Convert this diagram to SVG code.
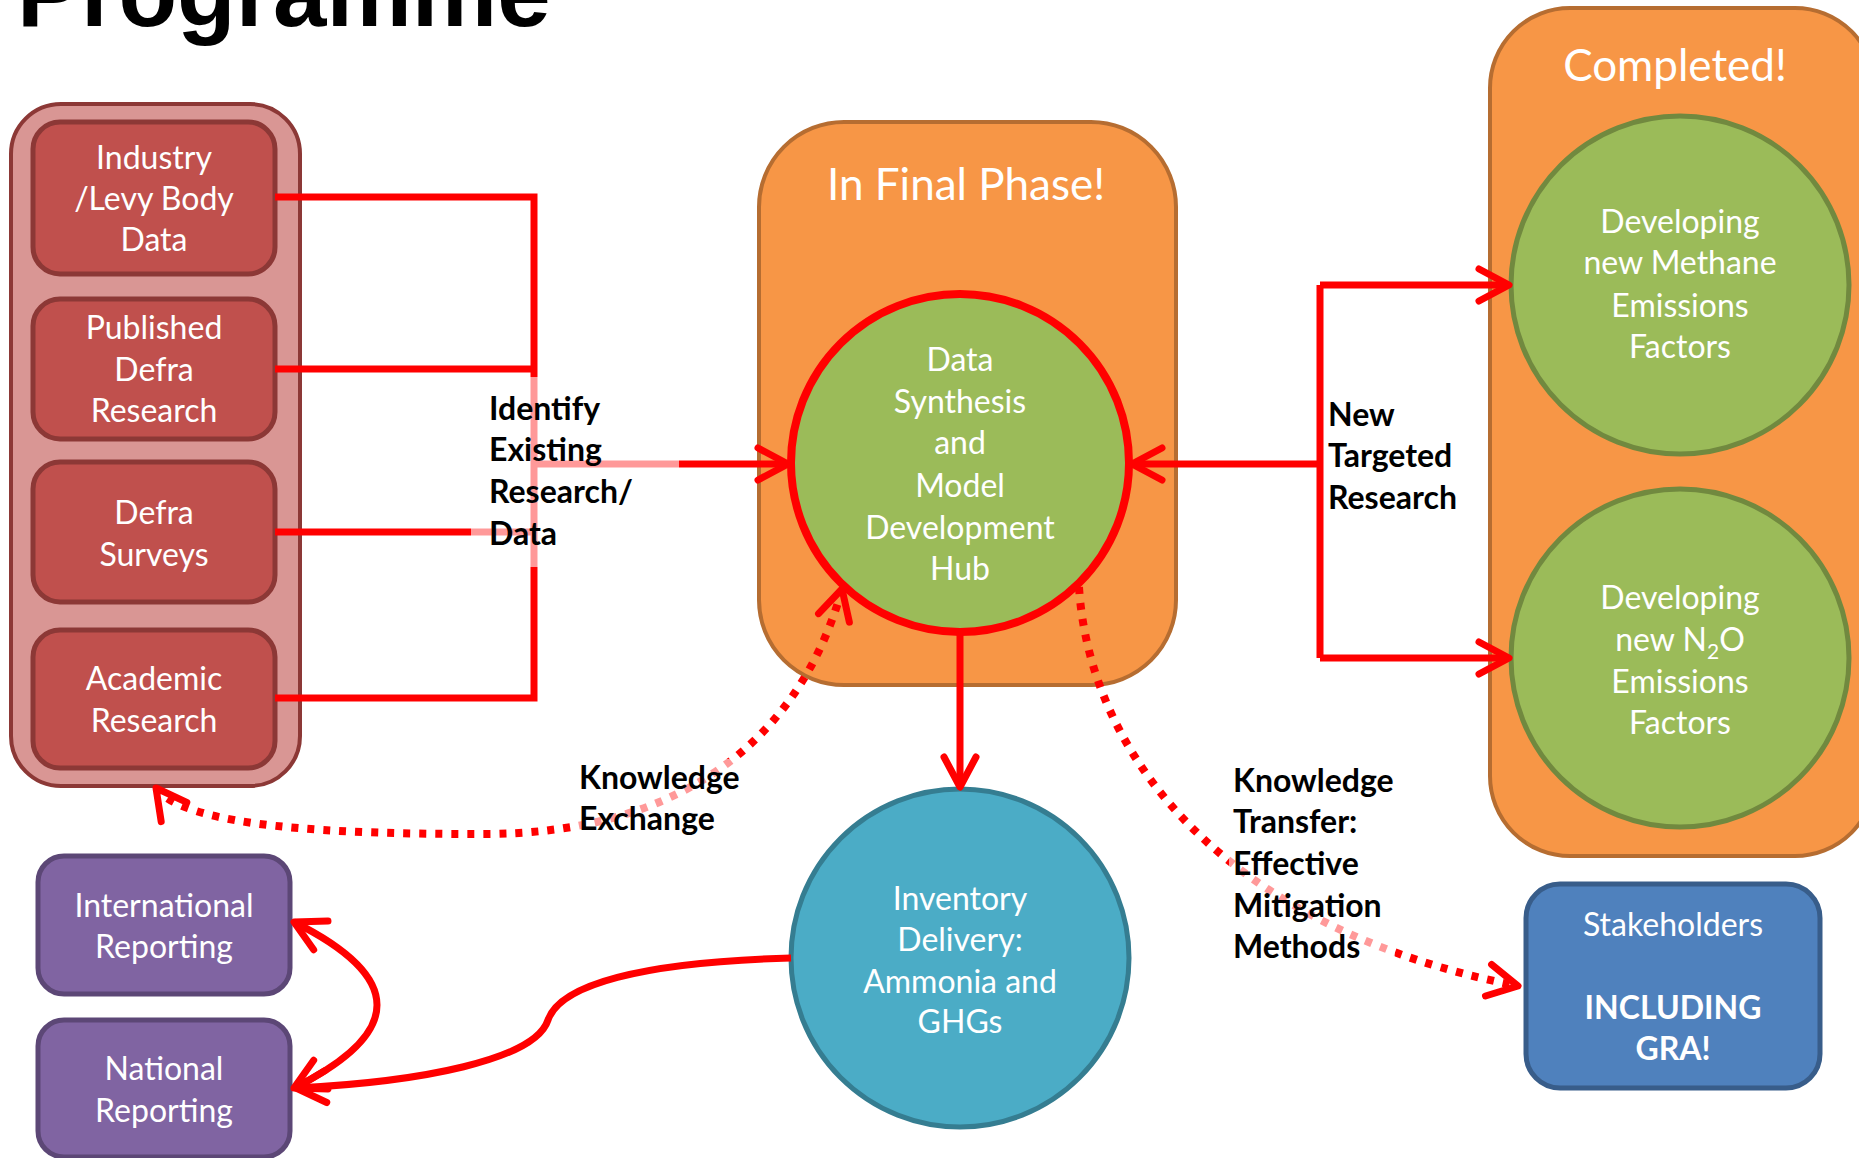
<svg xmlns="http://www.w3.org/2000/svg" width="1859" height="1158" viewBox="0 0 1859 1158">
<style>
.nt{font-family:Lato,"Open Sans","Liberation Sans",sans-serif;font-size:32px;fill:#fff;text-anchor:middle}
.big{font-family:Lato,"Open Sans","Liberation Sans",sans-serif;font-size:44px;fill:#fff;text-anchor:middle}
.lb{font-family:Lato,"Open Sans","Liberation Sans",sans-serif;font-size:32px;font-weight:bold;fill:#000}
.ln{fill:none;stroke:#f00;stroke-width:7}
.dot{fill:none;stroke:#f00;stroke-width:8;stroke-dasharray:7 9}
.redbox{fill:#C0504D;stroke:#8C3836;stroke-width:5}
.green{fill:#9BBB59;stroke:#71893F;stroke-width:5}
.orange{fill:#F79646;stroke:#B66D31;stroke-width:4}
.purple{fill:#8064A2;stroke:#5C4776;stroke-width:5}
.veil{fill:#fff;fill-opacity:0.6}
</style>
<defs>
<marker id="ah" viewBox="-40 -22 46 44" refX="0" refY="0" markerWidth="46" markerHeight="44" markerUnits="userSpaceOnUse" orient="auto-start-reverse" overflow="visible">
<path d="M-30,-16 L0,0 L-30,16" fill="none" stroke="#f00" stroke-width="7" stroke-linecap="round" stroke-linejoin="round"/>
</marker>
</defs>
<rect width="1859" height="1158" fill="#fff"/>
<text x="17" y="26" font-family="'Liberation Sans',Arial,sans-serif" font-weight="bold" font-size="96" fill="#000">Programme</text>

<g id="sources">
<rect x="11" y="104" width="289" height="682" rx="50" fill="#D99694" stroke="#8C3836" stroke-width="4"/>
</g>
<g id="industry"><rect class="redbox" x="33" y="122" width="242" height="152" rx="27"/>
<text class="nt" x="154" y="169">Industry</text><text class="nt" x="154" y="210">/Levy Body</text><text class="nt" x="154" y="251">Data</text></g>
<g id="published"><rect class="redbox" x="33" y="299" width="242" height="140" rx="27"/>
<text class="nt" x="154" y="339">Published</text><text class="nt" x="154" y="381">Defra</text><text class="nt" x="154" y="422">Research</text></g>
<g id="surveys"><rect class="redbox" x="33" y="462" width="242" height="140" rx="27"/>
<text class="nt" x="154" y="524">Defra</text><text class="nt" x="154" y="566">Surveys</text></g>
<g id="academic"><rect class="redbox" x="33" y="630" width="242" height="138" rx="27"/>
<text class="nt" x="154" y="690">Academic</text><text class="nt" x="154" y="732">Research</text></g>

<g id="final-phase"><rect class="orange" x="759" y="122" width="417" height="563" rx="85"/>
<text class="big" x="966" y="200">In Final Phase!</text></g>
<g id="hub"><circle cx="960" cy="463" r="169" fill="#9BBB59" stroke="#f00" stroke-width="8"/>
<text class="nt" x="960" y="371">Data</text><text class="nt" x="960" y="413">Synthesis</text><text class="nt" x="960" y="454">and</text><text class="nt" x="960" y="497">Model</text><text class="nt" x="960" y="539">Development</text><text class="nt" x="960" y="580">Hub</text></g>

<g id="completed"><rect class="orange" x="1490" y="8" width="385" height="848" rx="80"/>
<text class="big" x="1675" y="81">Completed!</text></g>
<g id="methane"><circle class="green" cx="1680" cy="285" r="169"/>
<text class="nt" x="1680" y="233">Developing</text><text class="nt" x="1680" y="274">new Methane</text><text class="nt" x="1680" y="317">Emissions</text><text class="nt" x="1680" y="358">Factors</text></g>
<g id="n2o"><circle class="green" cx="1680" cy="658" r="169"/>
<text class="nt" x="1680" y="609">Developing</text><text class="nt" x="1680" y="651">new N<tspan font-size="21" dy="8">2</tspan><tspan dy="-8">O</tspan></text><text class="nt" x="1680" y="693">Emissions</text><text class="nt" x="1680" y="734">Factors</text></g>

<g id="inventory"><circle cx="960" cy="958" r="169" fill="#4BACC6" stroke="#357D91" stroke-width="5"/>
<text class="nt" x="960" y="910">Inventory</text><text class="nt" x="960" y="951">Delivery:</text><text class="nt" x="960" y="993">Ammonia and</text><text class="nt" x="960" y="1033">GHGs</text></g>

<g id="stakeholders"><rect x="1526" y="884" width="294" height="204" rx="34" fill="#4F81BD" stroke="#385D8A" stroke-width="5"/>
<text class="nt" x="1673" y="936">Stakeholders</text><text class="nt" x="1673" y="1019" font-weight="bold">INCLUDING</text><text class="nt" x="1673" y="1060" font-weight="bold">GRA!</text></g>

<g id="international"><rect class="purple" x="38" y="856" width="252" height="138" rx="26"/>
<text class="nt" x="164" y="917">International</text><text class="nt" x="164" y="958">Reporting</text></g>
<g id="national"><rect class="purple" x="38" y="1020" width="252" height="137" rx="26"/>
<text class="nt" x="164" y="1080">National</text><text class="nt" x="164" y="1122">Reporting</text></g>

<g id="connectors">
<path class="ln" d="M275,197 H534 V698 H275"/>
<path class="ln" d="M275,369 H534"/>
<path class="ln" d="M275,532 H534"/>
<path class="ln" d="M534,464 H788" marker-end="url(#ah)"/>
<path class="ln" d="M1320,464 H1132" marker-end="url(#ah)"/>
<path class="ln" d="M1320,285 V658"/>
<path class="ln" d="M1320,285 H1509" marker-end="url(#ah)"/>
<path class="ln" d="M1320,658 H1509" marker-end="url(#ah)"/>
<path class="ln" d="M960,632 V787" marker-end="url(#ah)"/>
<path class="dot" d="M842,589 C800,740 680,835 480,834 C340,834 186,828 156,788" marker-start="url(#ah)" marker-end="url(#ah)"/>
<path class="dot" d="M1079,587 C1090,760 1230,930 1518,986" marker-end="url(#ah)"/>
<path class="ln" d="M294,922 Q460,1005 294,1088" marker-start="url(#ah)" marker-end="url(#ah)"/>
<path class="ln" d="M791,958 C640,962 560,985 548,1020 C535,1060 420,1082 296,1088" marker-end="url(#ah)"/>
</g>

<g id="label-identify">
<rect class="veil" x="471" y="377" width="208" height="190"/>
<text class="lb" x="489" y="420">Identify</text><text class="lb" x="489" y="461">Existing</text><text class="lb" x="489" y="503">Research/</text><text class="lb" x="489" y="545">Data</text></g>
<g id="label-exchange">
<rect class="veil" x="575" y="759" width="166" height="80"/>
<text class="lb" x="579" y="789">Knowledge</text><text class="lb" x="579" y="830">Exchange</text></g>
<g id="label-transfer">
<rect class="veil" x="1229" y="761" width="166" height="205"/>
<text class="lb" x="1233" y="792">Knowledge</text><text class="lb" x="1233" y="833">Transfer:</text><text class="lb" x="1233" y="875">Effective</text><text class="lb" x="1233" y="917">Mitigation</text><text class="lb" x="1233" y="958">Methods</text></g>
<g id="label-targeted">
<text class="lb" x="1328" y="426">New</text><text class="lb" x="1328" y="467">Targeted</text><text class="lb" x="1328" y="509">Research</text></g>
</svg>
